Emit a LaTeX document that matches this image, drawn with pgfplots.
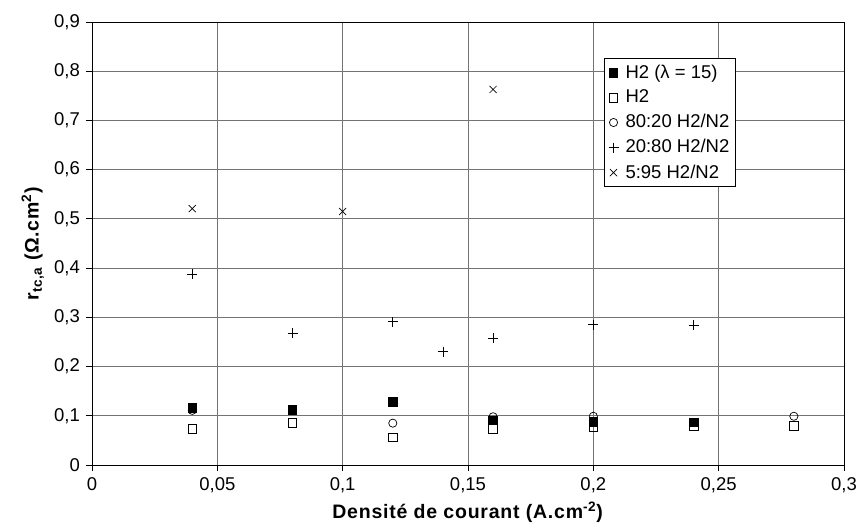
\documentclass[border=0pt]{standalone}
\usepackage{fontspec}
\setmainfont{Liberation Sans}
\usepackage{pgfplots}
\pgfplotsset{compat=1.18}
\begin{document}
\fontsize{18}{21}\selectfont
\begin{tikzpicture}
\path[use as bounding box] (-92pt,-67pt) rectangle (767pt,465pt);
\begin{axis}[
  scale only axis, width=752pt, height=443pt,
  xmin=0, xmax=0.3, ymin=0, ymax=0.9,
  xtick={0,0.05,...,0.3}, ytick={0,0.1,...,0.9},
  /pgf/number format/assume math mode=true,
  /pgf/number format/use comma,
  /pgf/number format/fixed, /pgf/number format/precision=2,
  tick label style={font=\fontsize{18.5}{21}\selectfont},
  tick align=outside, major tick length=6pt,
  xtick pos=bottom, ytick pos=left,
  grid=major, major grid style={black!55, line width=0.8pt},
  axis line style={black, line width=0.8pt},
  tick style={black, line width=0.8pt},
  xlabel={\textbf{\addfontfeatures{LetterSpace=4}Densité de courant (A.cm\textsuperscript{-2})}},
  ylabel={\textbf{\addfontfeatures{LetterSpace=4}r\textsubscript{tc,a} (Ω.cm\textsuperscript{2})}},
  label style={font=\fontsize{19.5}{22}\selectfont},
  xlabel style={yshift=3pt},
  ylabel style={yshift=-2pt},
  legend style={at={(rel axis cs:0.681,0.918)}, anchor=north west,
    font=\fontsize{18.5}{21}\selectfont, draw=black, line width=0.8pt,
    row sep=5pt, inner xsep=4pt, inner ysep=4pt,
    legend cell align=left,
    /tikz/every odd column/.append style={column sep=5pt}},
  legend image post style={line width=0.7pt},
  legend image code/.code={\draw plot coordinates {(0.1cm,0cm)};},
]
\addplot[only marks, mark=square*, mark size=4.3pt, mark options={fill=black, draw=black, line width=0.7pt}] coordinates {
(0.04,0.116) (0.08,0.112) (0.12,0.128) (0.16,0.091) (0.20,0.088) (0.24,0.087)};
\addlegendentry{H2 (λ = 15)}
\addplot[only marks, mark=square, mark size=4.3pt, mark options={draw=black, fill=white, line width=0.7pt}] coordinates {
(0.04,0.073) (0.08,0.086) (0.12,0.056) (0.16,0.073) (0.20,0.077) (0.24,0.080) (0.28,0.079)};
\addlegendentry{H2}
\addplot[only marks, mark=o, mark size=4.1pt, mark options={draw=black, line width=0.7pt}] coordinates {
(0.04,0.111) (0.12,0.085) (0.16,0.098) (0.20,0.099) (0.28,0.099)};
\addlegendentry{80:20 H2/N2}
\addplot[only marks, mark=+, mark size=5pt, mark options={draw=black, line width=0.7pt}] coordinates {
(0.04,0.388) (0.08,0.268) (0.12,0.291) (0.14,0.230) (0.16,0.257) (0.20,0.285) (0.24,0.284)};
\addlegendentry{20:80 H2/N2}
\addplot[only marks, mark=x, mark size=5pt, mark options={draw=black, line width=0.7pt}] coordinates {
(0.04,0.521) (0.10,0.515) (0.16,0.763)};
\addlegendentry{5:95 H2/N2}
\end{axis}
\end{tikzpicture}
\end{document}
